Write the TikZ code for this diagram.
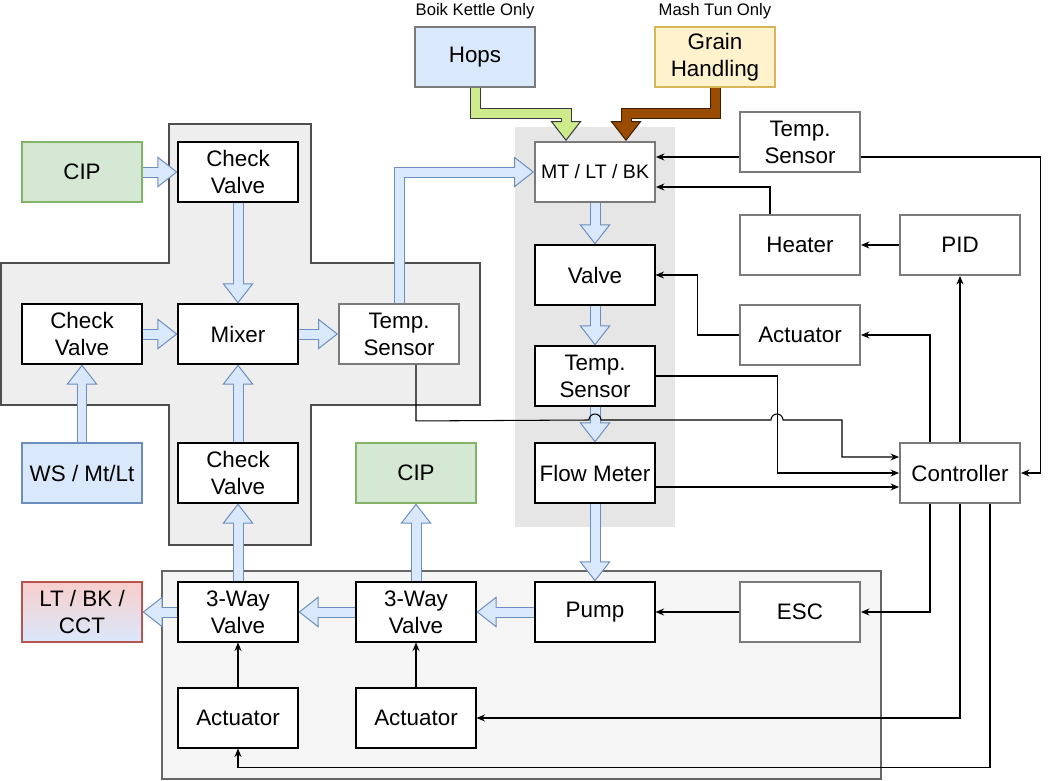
\documentclass[tikz,border=0pt]{standalone}
\usepackage{fontspec}
\setmainfont{Liberation Sans}
\usetikzlibrary{arrows.meta,calc}
\definecolor{flowfill}{HTML}{DAE8FC}
\definecolor{flowdraw}{HTML}{6C8EBF}
\definecolor{hopfill}{HTML}{CDEB8B}
\definecolor{hopdraw}{HTML}{36393D}
\definecolor{grainfill}{HTML}{994C00}
\definecolor{graindraw}{HTML}{3D1F00}
\definecolor{greenfill}{HTML}{D5E8D4}
\definecolor{greendraw}{HTML}{82B366}
\definecolor{yellowfill}{HTML}{FFF2CC}
\definecolor{yellowdraw}{HTML}{D6B656}
\definecolor{redfill}{HTML}{F8CECC}
\definecolor{reddraw}{HTML}{B85450}
\definecolor{boxgray}{HTML}{7A7A7A}
\definecolor{crossfill}{HTML}{EEEEEE}
\definecolor{crossdraw}{HTML}{4D4D4D}
\definecolor{midfill}{HTML}{E6E6E6}
\definecolor{botfill}{HTML}{F5F5F5}
\definecolor{botdraw}{HTML}{666666}
\tikzset{
  box/.style={draw=black, line width=0.6pt, fill=white, minimum width=2.4cm, minimum height=1.2cm,
    inner sep=0pt, align=center, font=\fontsize{12.75pt}{15.3pt}\selectfont},
  gbox/.style={box, draw=boxgray, line width=1.1pt},
  smalllabel/.style={inner sep=0pt, font=\fontsize{9.5pt}{11pt}\selectfont},
  pipe/.style n args={2}{draw=#2, line width=0.22cm, line join=miter,
    -{Triangle[length=0.4cm, width=0.62cm, fill=#1, line width=0.02cm 0 0]},
    postaction={draw=#1, line width=0.18cm, arrows=-, shorten >=0.36cm}},
  flow/.style={pipe={flowfill}{flowdraw}},
  sig/.style={draw=black, line width=0.6pt, -{Stealth[length=0.17cm, width=0.14cm]}}
}
\begin{document}
\begin{tikzpicture}[x=0.02cm, y=-0.02cm]
\useasboundingbox (0,0) rectangle (1049,781);
% panels
\fill[midfill] (515,127) rectangle (675,527);
\draw[crossdraw, fill=crossfill, line width=0.6pt] (169,124) -- (311,124) -- (311,263) -- (480,263) -- (480,405) -- (311,405) -- (311,545) -- (169,545) -- (169,405) -- (1,405) -- (1,263) -- (169,263) -- cycle;
\draw[botdraw, fill=botfill, line width=0.6pt] (162,571) rectangle (881,779);
% labels
\node[smalllabel] (lblhops) at (475,11) {Boik Kettle Only};
\node[smalllabel] (lblgrain) at (715,11) {Mash Tun Only};
% nodes
\node[box, fill=greenfill, draw=greendraw] (cip1) at (82,172) {CIP};
\node[box] (cvtop) at (238,172) {Check\\Valve};
\node[box] (cvleft) at (82,334) {Check\\Valve};
\node[box] (mixer) at (238,334) {Mixer};
\node[gbox] (tsl) at (399,334) {Temp.\\Sensor};
\node[box, fill=flowfill, draw=flowdraw] (ws) at (82,473) {WS / Mt/Lt};
\node[box] (cvbot) at (238,473) {Check\\Valve};
\node[box, fill=greenfill, draw=greendraw] (cip2) at (416,473) {CIP};
\node[gbox, font=\fontsize{11.1pt}{13.5pt}\selectfont] (mt) at (595,172) {MT / LT / BK};
\node[box] (valve) at (595,275) {Valve};
\node[box] (tsm) at (595,376) {Temp.\\Sensor};
\node[box] (flow) at (595,473) {Flow Meter};
\node[box, fill=flowfill, draw=boxgray, line width=1.1pt] (hops) at (475,57) {Hops};
\node[box, fill=yellowfill, draw=yellowdraw, line width=1.1pt] (grain) at (715,57) {Grain\\Handling};
\node[gbox] (tsr) at (800,142) {Temp.\\Sensor};
\node[gbox] (heater) at (800,245) {Heater};
\node[gbox] (pid) at (960,245) {PID};
\node[gbox] (actr) at (800,335) {Actuator};
\node[gbox] (ctrl) at (960,473) {Controller};
\node[box, top color=redfill, bottom color=flowfill, draw=reddraw] (lt) at (82,612) {LT / BK /\\CCT};
\node[box] (tvl) at (238,612) {3-Way\\Valve};
\node[box] (tvm) at (416,612) {3-Way\\Valve};
\node[box] (pump) at (595,612) {Pump};
\node[gbox] (esc) at (800,612) {ESC};
\node[box] (actbl) at (238,718) {Actuator};
\node[box] (actbm) at (416,718) {Actuator};
% flow pipes
\draw[flow] (cip1.east) -- (cvtop.west);
\draw[flow] (cvtop.south) -- (mixer.north);
\draw[flow] (cvleft.east) -- (mixer.west);
\draw[flow] (mixer.east) -- (tsl.west);
\draw[flow] (ws.north) -- (cvleft.south);
\draw[flow] (cvbot.north) -- (mixer.south);
\draw[flow] (tsl.north) |- (mt.west);
\draw[flow] (mt.south) -- (valve.north);
\draw[flow] (valve.south) -- (tsm.north);
\draw[flow] (tsm.south) -- (flow.north);
\draw[flow] (flow.south) -- (pump.north);
\draw[flow] (pump.west) -- (tvm.east);
\draw[flow] (tvm.west) -- (tvl.east);
\draw[flow] (tvl.west) -- (lt.east);
\draw[flow] (tvl.north) -- (cvbot.south);
\draw[flow] (tvm.north) -- (cip2.south);
\draw[pipe={hopfill}{hopdraw}] (hops.south) -- ++(0,26) -| ($(mt.north)+(-29,0)$);
\draw[pipe={grainfill}{graindraw}] (grain.south) -- ++(0,26) -| ($(mt.north)+(31,0)$);
% signals
\draw[sig] ($(tsr.west)+(0,15)$) -- ($(mt.east)+(0,-15)$);
\draw[sig] ($(tsr.east)+(0,15)$) -- ++(180,0) |- (ctrl.east);
\draw[sig] ($(heater.north)+(-30,0)$) |- ($(mt.east)+(0,15)$);
\draw[sig] (pid.west) -- (heater.east);
\draw[sig] (actr.west) -- ++(-42,0) |- (valve.east);
\draw[sig] ($(ctrl.north)+(-30,0)$) |- (actr.east);
\draw[sig] (ctrl.north) -- (pid.south);
\draw[sig] (tsm.east) -- ++(122,0) |- (ctrl.west);
\draw[sig] ($(flow.east)+(0,14)$) -- ($(ctrl.west)+(0,14)$);
\draw[sig] ($(tsl.south)+(17,0)$) -- ++(0,56) -- (589,420) arc[start angle=180, end angle=0, radius=0.12cm] -- (771,420) arc[start angle=180, end angle=0, radius=0.12cm] -- (842,420) |- ($(ctrl.west)+(0,-16)$);
\draw[sig] ($(ctrl.south)+(-30,0)$) |- (esc.east);
\draw[sig] (esc.west) -- (pump.east);
\draw[sig] (ctrl.south) |- (actbm.east);
\draw[sig] ($(ctrl.south)+(30,0)$) -- ++(0,264) -| (actbl.south);
\draw[sig] (actbl.north) -- (tvl.south);
\draw[sig] (actbm.north) -- (tvm.south);
\end{tikzpicture}
\end{document}
